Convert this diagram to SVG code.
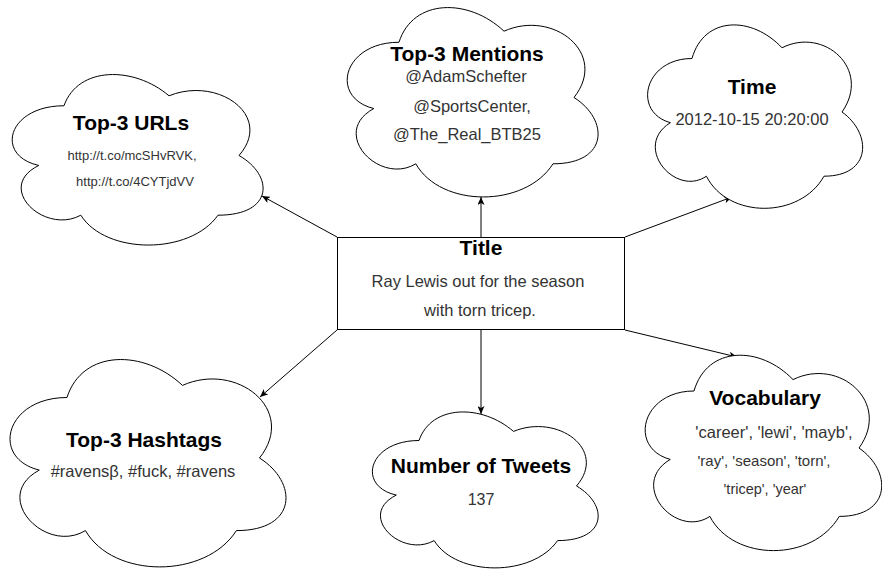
<svg xmlns="http://www.w3.org/2000/svg" width="882" height="570" viewBox="0 0 882 570">
<defs>
<style>
.cloud{fill:#fff;stroke:#000;stroke-width:1;vector-effect:non-scaling-stroke}
.box{fill:#fff;stroke:#000;stroke-width:1}
.h{font-family:"Liberation Sans",Arial,sans-serif;font-weight:bold;font-size:21px;fill:#000;text-anchor:middle}
.b{font-family:"Liberation Sans",Arial,sans-serif;font-size:16.5px;fill:#333;text-anchor:middle}
.s{font-family:"Liberation Sans",Arial,sans-serif;font-size:13px;fill:#333;text-anchor:middle}
.edge{stroke:#000;stroke-width:1;fill:none;marker-end:url(#arr)}
</style>
<marker id="arr" viewBox="0 0 8 7" refX="8" refY="3.5" markerWidth="8" markerHeight="7" markerUnits="userSpaceOnUse" orient="auto">
<path d="M0,0 L8,3.5 L0,7 L2,3.5 Z" fill="#000"/>
</marker>
</defs>
<rect width="882" height="570" fill="#fff"/>
<g id="connectors">
<line class="edge" x1="337" y1="237" x2="262" y2="196"/>
<line class="edge" x1="481" y1="237" x2="481" y2="197"/>
<line class="edge" x1="625" y1="237" x2="732" y2="197"/>
<line class="edge" x1="337" y1="330" x2="260" y2="397"/>
<line class="edge" x1="481" y1="330" x2="481" y2="414"/>
<line class="edge" x1="625" y1="330" x2="737" y2="357"/>
</g>
<g id="urls">
<path class="cloud" transform="translate(-6,56) scale(2.8,1.99)" d="M25,25 C5,25 0,50 16,55 C0,66 18,90 31,80 C40,100 70,100 80,80 C100,80 100,60 87.5,50 C100,30 80,10 62.5,20 C50,5 30,5 25,25 Z"/>
<text class="h" x="131" y="130">Top-3 URLs</text>
<text class="s" x="132" y="160">http://t.co/mcSHvRVK,</text>
<text class="s" x="135" y="186">http://t.co/4CYTjdVV</text>
</g>
<g id="mentions">
<path class="cloud" transform="translate(329,-13) scale(2.8,2.21)" d="M25,25 C5,25 0,50 16,55 C0,66 18,90 31,80 C40,100 70,100 80,80 C100,80 100,60 87.5,50 C100,30 80,10 62.5,20 C50,5 30,5 25,25 Z"/>
<text class="h" x="467" y="61">Top-3 Mentions</text>
<text class="b" x="466" y="82">@AdamSchefter</text>
<text class="b" x="472" y="112">@SportsCenter,</text>
<text class="b" x="467" y="140">@The_Real_BTB25</text>
</g>
<g id="time">
<path class="cloud" transform="translate(632,5) scale(2.4,2.14)" d="M25,25 C5,25 0,50 16,55 C0,66 18,90 31,80 C40,100 70,100 80,80 C100,80 100,60 87.5,50 C100,30 80,10 62.5,20 C50,5 30,5 25,25 Z"/>
<text class="h" x="752" y="94">Time</text>
<text class="b" x="752" y="125">2012-10-15 20:20:00</text>
</g>
<g id="title">
<rect class="box" x="337.5" y="237.5" width="287" height="92"/>
<text class="h" x="481" y="255">Title</text>
<text class="b" x="478" y="287">Ray Lewis out for the season</text>
<text class="b" x="480" y="316">with torn tricep.</text>
</g>
<g id="hashtags">
<path class="cloud" transform="translate(-10,337) scale(3.08,2.42)" d="M25,25 C5,25 0,50 16,55 C0,66 18,90 31,80 C40,100 70,100 80,80 C100,80 100,60 87.5,50 C100,30 80,10 62.5,20 C50,5 30,5 25,25 Z"/>
<text class="h" x="144" y="447">Top-3 Hashtags</text>
<text class="b" x="143" y="477">#ravensβ, #fuck, #ravens</text>
</g>
<g id="tweets">
<path class="cloud" transform="translate(356,395) scale(2.52,1.82)" d="M25,25 C5,25 0,50 16,55 C0,66 18,90 31,80 C40,100 70,100 80,80 C100,80 100,60 87.5,50 C100,30 80,10 62.5,20 C50,5 30,5 25,25 Z"/>
<text class="h" x="481" y="473">Number of Tweets</text>
<text class="b" x="481" y="505" style="font-size:16px">137</text>
</g>
<g id="vocabulary">
<path class="cloud" transform="translate(628,334) scale(2.64,2.28)" d="M25,25 C5,25 0,50 16,55 C0,66 18,90 31,80 C40,100 70,100 80,80 C100,80 100,60 87.5,50 C100,30 80,10 62.5,20 C50,5 30,5 25,25 Z"/>
<text class="h" x="765" y="405">Vocabulary</text>
<text class="b" x="774" y="438">'career', 'lewi', 'mayb',</text>
<text class="b" x="764" y="466" style="font-size:15px">'ray', 'season', 'torn',</text>
<text class="b" x="765" y="494" style="font-size:14.5px">'tricep', 'year'</text>
</g>
</svg>
